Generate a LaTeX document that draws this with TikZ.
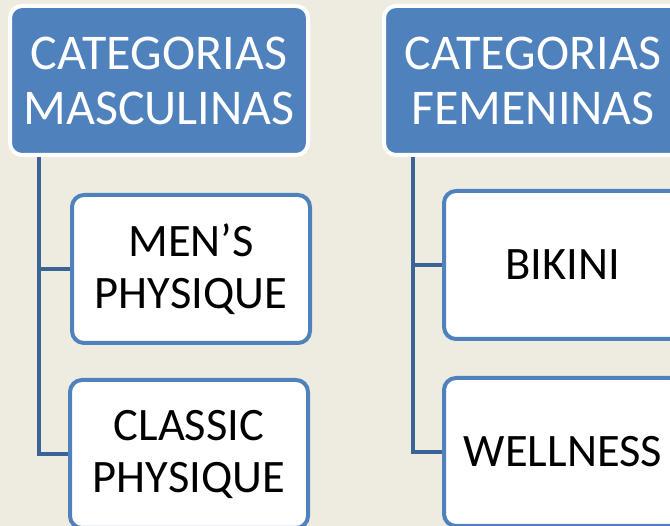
\documentclass[tikz,border=0pt]{standalone}
\usepackage{fontspec}
\setmainfont{Carlito}
\usepackage{tikz}
\usetikzlibrary{positioning,calc,backgrounds}

\definecolor{bgtan}{HTML}{EEECE1}
\definecolor{catblue}{HTML}{4F81BD}
\definecolor{linkblue}{HTML}{3B6496}

\tikzset{
	cathead/.style={draw=white, line width=4pt, fill=catblue, rounded corners=12pt,
		minimum width=298pt, minimum height=149pt, inner sep=0pt,
		text=white, align=center, font=\fontsize{50}{55}\selectfont},
	catitem/.style={draw=catblue, line width=4pt, fill=white, rounded corners=12pt,
		minimum width=238pt, minimum height=148pt, inner sep=0pt,
		text=black, align=center, font=\fontsize{46.5}{52}\selectfont},
	catlink/.style={draw=linkblue, line width=4pt}
}

\begin{document}
\begin{tikzpicture}[x=1pt,y=-1pt]
	\useasboundingbox (0,0) rectangle (670,526);
	\clip (0,0) rectangle (670,526);

	% masculinas
	\node[cathead] (mascHead) at (159,80.5) {CATEGORIAS\\MASCULINAS};
	\node[catitem] (mens) at (191,269) {MEN’S\\PHYSIQUE};
	\node[catitem] (classic) at (189,454) {CLASSIC\\PHYSIQUE};
	\coordinate (mascRoot) at ($(mascHead.south west)+(31,0)$);

	% femeninas
	\node[cathead] (femHead) at (533,80.5) {CATEGORIAS\\FEMENINAS};
	\node[catitem] (bikini) at (563,265) {BIKINI};
	\node[catitem] (wellness) at (563,452) {WELLNESS};
	\coordinate (femRoot) at ($(femHead.south west)+(31,0)$);

	\begin{scope}[on background layer]
		\fill[bgtan] (0,0) rectangle (670,526);
		\draw[catlink] (mascRoot) |- (mens.west);
		\draw[catlink] (mascRoot) |- (classic.west);
		\draw[catlink] (femRoot) |- (bikini.west);
		\draw[catlink] (femRoot) |- (wellness.west);
	\end{scope}
\end{tikzpicture}
\end{document}
